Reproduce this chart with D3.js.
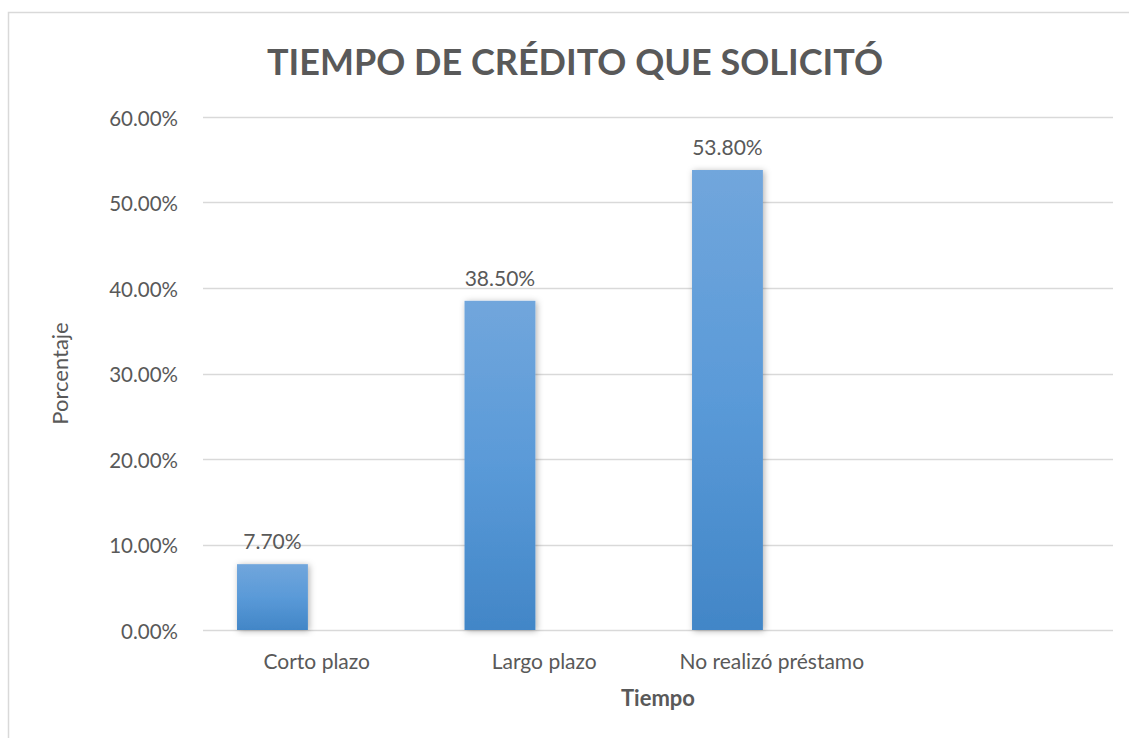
<!DOCTYPE html>
<html>
<head>
<meta charset="utf-8">
<script src="https://cdn.jsdelivr.net/npm/d3@7"></script>
<style>
  body { margin: 0; background: #fff; }
  svg { display: block; font-family: Lato, "Open Sans", sans-serif; }
</style>
</head>
<body>
<div id="chart"></div>
<script>
const categories = ["Corto plazo", "Largo plazo", "No realizó préstamo", ""];
const values = [0.077, 0.385, 0.538, null];
const yTicks = [0, 0.1, 0.2, 0.3, 0.4, 0.5, 0.6];
const title = "TIEMPO DE CRÉDITO QUE SOLICITÓ";
const xTitle = "Tiempo";
const yTitle = "Porcentaje";

const width = 1129, height = 738;
const plot = { l: 203, r: 1113, t: 117, b: 630 };
const textColor = "#595959";

const svg = d3.select("#chart").append("svg")
    .attr("width", width)
    .attr("height", height);

const defs = svg.append("defs");

const grad = defs.append("linearGradient")
    .attr("id", "barGrad")
    .attr("x1", 0).attr("y1", 0).attr("x2", 0).attr("y2", 1);
grad.append("stop").attr("offset", "0%").attr("stop-color", "#71a6dc");
grad.append("stop").attr("offset", "50%").attr("stop-color", "#5a9ad8");
grad.append("stop").attr("offset", "100%").attr("stop-color", "#4286c7");

const shadow = defs.append("filter")
    .attr("id", "barShadow")
    .attr("x", "-30%").attr("y", "-10%")
    .attr("width", "160%").attr("height", "120%");
shadow.append("feDropShadow")
    .attr("dx", 1.5).attr("dy", 1)
    .attr("stdDeviation", 3)
    .attr("flood-color", "#000")
    .attr("flood-opacity", 0.3);

// chart border (runs off the right and bottom edges)
svg.append("rect")
    .attr("x", 8.5).attr("y", 12.5)
    .attr("width", width + 20).attr("height", height + 20)
    .attr("fill", "#fff")
    .attr("stroke", "#d9d9d9")
    .attr("stroke-width", 1.5);

const x0 = d3.scaleBand()
    .domain(categories.map((c, i) => i))
    .range([plot.l, plot.r])
    .padding(0);

// two slots per category, the second one is empty
const x1 = d3.scaleBand()
    .domain(["a", "b"])
    .range([0, x0.bandwidth()])
    .paddingInner(0.2)
    .paddingOuter(0.384);

const y = d3.scaleLinear()
    .domain([0, 0.6])
    .range([plot.b, plot.t]);

const fmt = d3.format(".2%");

// gridlines
svg.append("g")
    .selectAll("line")
    .data(yTicks)
    .join("line")
    .attr("x1", plot.l).attr("x2", plot.r)
    .attr("y1", d => Math.round(y(d)) + 0.5)
    .attr("y2", d => Math.round(y(d)) + 0.5)
    .attr("stroke", "#d9d9d9")
    .attr("stroke-width", 1.5);

// y axis labels
const yAxis = d3.axisLeft(y)
    .tickValues(yTicks)
    .tickFormat(fmt)
    .tickSize(0)
    .tickPadding(25);

svg.append("g")
    .attr("transform", `translate(${plot.l}, 0)`)
    .call(yAxis)
    .call(g => g.select(".domain").remove())
    .call(g => g.selectAll("text")
        .attr("fill", textColor)
        .attr("dy", "0.4em")
        .style("font-family", "Lato, sans-serif")
        .style("font-size", "20.5px"));

// x axis labels
const xAxis = d3.axisBottom(x0)
    .tickFormat(i => categories[i])
    .tickSize(0)
    .tickPadding(24);

svg.append("g")
    .attr("transform", `translate(0, ${plot.b})`)
    .call(xAxis)
    .call(g => g.select(".domain").remove())
    .call(g => g.selectAll("text")
        .attr("fill", textColor)
        .style("font-family", "Lato, sans-serif")
        .style("font-size", "21px"));

const barData = values
    .map((v, i) => ({ i, v }))
    .filter(d => d.v != null);

// bars
svg.append("g")
    .selectAll("rect")
    .data(barData)
    .join("rect")
    .attr("x", d => x0(d.i) + x1("a"))
    .attr("y", d => y(d.v))
    .attr("width", x1.bandwidth())
    .attr("height", d => y(0) - y(d.v))
    .attr("fill", "url(#barGrad)")
    .attr("filter", "url(#barShadow)");

// value labels
svg.append("g")
    .selectAll("text")
    .data(barData)
    .join("text")
    .attr("x", d => x0(d.i) + x1("a") + x1.bandwidth() / 2)
    .attr("y", d => y(d.v) - 15)
    .attr("text-anchor", "middle")
    .attr("fill", textColor)
    .style("font-size", "21px")
    .text(d => fmt(d.v));

// title
svg.append("text")
    .attr("x", 575)
    .attr("y", 75)
    .attr("text-anchor", "middle")
    .attr("fill", textColor)
    .style("font-size", "36px")
    .style("font-weight", "bold")
    .text(title);

// axis titles
svg.append("text")
    .attr("x", (plot.l + plot.r) / 2)
    .attr("y", 706)
    .attr("text-anchor", "middle")
    .attr("fill", textColor)
    .style("font-size", "22px")
    .style("font-weight", "bold")
    .text(xTitle);

svg.append("text")
    .attr("transform", `translate(68, ${(plot.t + plot.b) / 2}) rotate(-90)`)
    .attr("text-anchor", "middle")
    .attr("fill", textColor)
    .style("font-size", "22px")
    .text(yTitle);
</script>
</body>
</html>
